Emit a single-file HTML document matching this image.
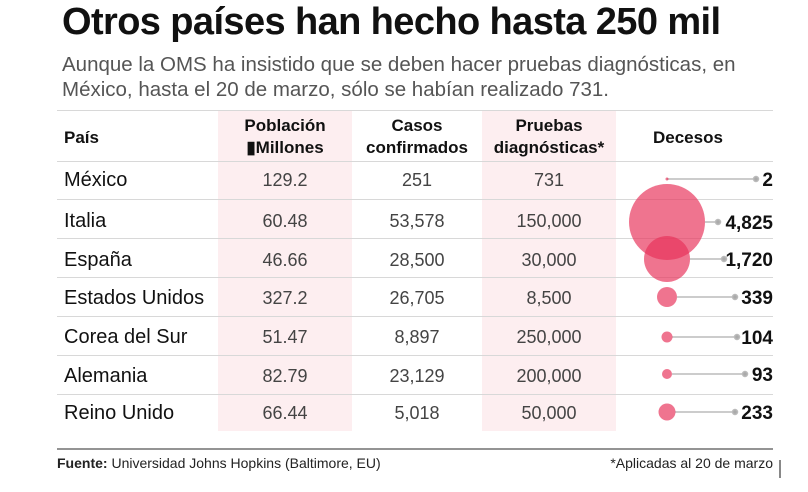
<!DOCTYPE html>
<html><head><meta charset="utf-8"><style>
body{margin:0;width:808px;height:492px;background:#fff;font-family:"Liberation Sans",sans-serif;position:relative;overflow:hidden;color:#111}
.a{position:absolute;white-space:nowrap}
.pk{position:absolute;background:#fdeef0;top:111px;height:320px}
.ln{position:absolute;left:57px;width:716px;height:1px;background:#d8d8d8}
.h{font-weight:bold;font-size:17px;text-align:center;line-height:22px}
.c{font-size:18px;color:#444;text-align:center;width:134px}
.n{font-size:20px;color:#111}
.d{font-weight:bold;font-size:19px;right:35px}
</style></head><body>
<div class="a" style="left:62px;top:1px;font-size:38px;font-weight:bold;letter-spacing:-0.6px">Otros países han hecho hasta 250 mil</div>
<div class="a" style="left:62px;top:52px;font-size:20.5px;color:#555;line-height:25px">Aunque la OMS ha insistido que se deben hacer pruebas diagnósticas, en<br>México, hasta el 20 de marzo, sólo se habían realizado 731.</div>
<div class="pk" style="left:218px;width:134px"></div>
<div class="pk" style="left:482px;width:134px"></div>
<div class="ln" style="top:110px"></div>
<div class="ln" style="top:161px"></div><div class="ln" style="top:199px"></div><div class="ln" style="top:238px"></div><div class="ln" style="top:277px"></div><div class="ln" style="top:316px"></div><div class="ln" style="top:355px"></div><div class="ln" style="top:394px"></div>
<div class="a h" style="left:64px;top:127px">País</div>
<div class="a h" style="left:218px;width:134px;top:115px">Población<br>&#9646;Millones</div>
<div class="a h" style="left:350px;width:134px;top:115px">Casos<br>confirmados</div>
<div class="a h" style="left:482px;width:134px;top:115px">Pruebas<br>diagnósticas*</div>
<div class="a h" style="left:653px;top:127px">Decesos</div>
<svg class="a" style="left:0;top:0" width="808" height="492">
<g stroke="#bbb" stroke-width="1.5" fill="#aaa">
<line x1="667" y1="179" x2="756" y2="179"/><circle cx="756" cy="179" r="2.5"/>
<line x1="705" y1="222" x2="718" y2="222"/><circle cx="718" cy="222" r="2.5"/>
<line x1="690" y1="259" x2="724" y2="259"/><circle cx="724" cy="259" r="2.5"/>
<line x1="677" y1="297" x2="735" y2="297"/><circle cx="735" cy="297" r="2.5"/>
<line x1="672" y1="337" x2="737" y2="337"/><circle cx="737" cy="337" r="2.5"/>
<line x1="672" y1="374" x2="745" y2="374"/><circle cx="745" cy="374" r="2.5"/>
<line x1="675" y1="412" x2="735" y2="412"/><circle cx="735" cy="412" r="2.5"/>
</g>
<g fill="#e8325a" fill-opacity="0.68">
<circle cx="667" cy="179" r="1.5"/>
<circle cx="667" cy="222" r="38"/>
<circle cx="667" cy="259" r="23"/>
<circle cx="667" cy="297" r="10"/>
<circle cx="667" cy="337" r="5.5"/>
<circle cx="667" cy="374" r="5"/>
<circle cx="667" cy="412" r="8.5"/>
</g>
<line x1="57" y1="449" x2="773" y2="449" stroke="#555" stroke-width="1.3"/>
<line x1="780" y1="460" x2="780" y2="478" stroke="#111" stroke-width="1"/>
</svg>
<div class="a n" style="left:64px;top:169px">México</div>
<div class="a n" style="left:64px;top:210px">Italia</div>
<div class="a n" style="left:64px;top:249px">España</div>
<div class="a n" style="left:64px;top:287px">Estados Unidos</div>
<div class="a n" style="left:64px;top:326px">Corea del Sur</div>
<div class="a n" style="left:64px;top:365px">Alemania</div>
<div class="a n" style="left:64px;top:402px">Reino Unido</div>
<div class="a c" style="left:218px;top:170px">129.2</div><div class="a c" style="left:350px;top:170px">251</div><div class="a c" style="left:482px;top:170px">731</div>
<div class="a c" style="left:218px;top:211px">60.48</div><div class="a c" style="left:350px;top:211px">53,578</div><div class="a c" style="left:482px;top:211px">150,000</div>
<div class="a c" style="left:218px;top:250px">46.66</div><div class="a c" style="left:350px;top:250px">28,500</div><div class="a c" style="left:482px;top:250px">30,000</div>
<div class="a c" style="left:218px;top:288px">327.2</div><div class="a c" style="left:350px;top:288px">26,705</div><div class="a c" style="left:482px;top:288px">8,500</div>
<div class="a c" style="left:218px;top:327px">51.47</div><div class="a c" style="left:350px;top:327px">8,897</div><div class="a c" style="left:482px;top:327px">250,000</div>
<div class="a c" style="left:218px;top:366px">82.79</div><div class="a c" style="left:350px;top:366px">23,129</div><div class="a c" style="left:482px;top:366px">200,000</div>
<div class="a c" style="left:218px;top:403px">66.44</div><div class="a c" style="left:350px;top:403px">5,018</div><div class="a c" style="left:482px;top:403px">50,000</div>
<div class="a d" style="top:170px">2</div>
<div class="a d" style="top:213px">4,825</div>
<div class="a d" style="top:250px">1,720</div>
<div class="a d" style="top:288px">339</div>
<div class="a d" style="top:328px">104</div>
<div class="a d" style="top:365px">93</div>
<div class="a d" style="top:403px">233</div>
<div class="a" style="left:57px;top:455px;font-size:14px;color:#222"><b>Fuente:</b> Universidad Johns Hopkins (Baltimore, EU)</div>
<div class="a" style="right:35px;top:455px;font-size:14px;color:#222">*Aplicadas al 20 de marzo</div>
</body></html>
